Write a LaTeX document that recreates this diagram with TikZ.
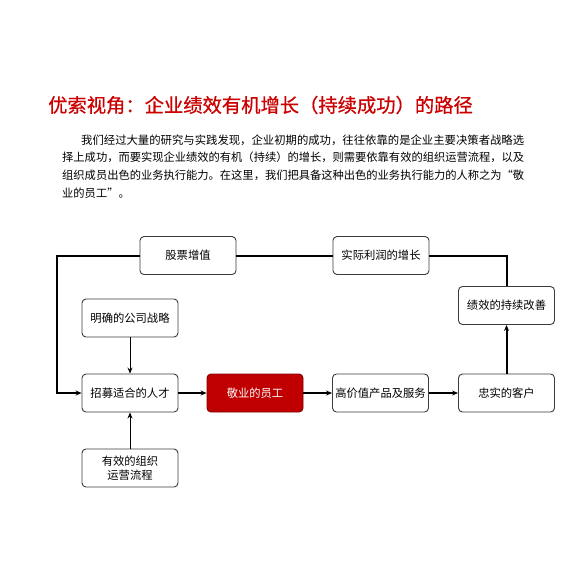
\documentclass[tikz,border=0pt]{standalone}
\usepackage{fontspec}
\usepackage{graphicx}
\setmainfont{Noto Sans CJK SC}
\newfontfamily\titlefont[FakeBold=0.6]{Noto Sans CJK SC}
\usetikzlibrary{arrows.meta}
\definecolor{titlered}{RGB}{204,0,0}
\definecolor{boxred}{RGB}{192,0,0}
\definecolor{boxredborder}{RGB}{130,0,0}
\definecolor{boxline}{RGB}{60,60,60}
\tikzset{
  x=1pt, y=-1pt,
  flowbox/.style={draw=boxline, line width=0.9pt, rounded corners=4pt, fill=white,
    minimum width=96pt, minimum height=38pt, inner sep=1pt, align=center,
    font=\fontsize{11.3}{14}\selectfont},
  hotbox/.style={flowbox, fill=boxred, draw=boxredborder, text=white},
  thickline/.style={line width=2pt, black},
  thinline/.style={line width=0.9pt, black},
  arr/.style={-{Stealth[length=6pt,width=5pt]}},
  paraline/.style={anchor=west, inner sep=0pt, font=\fontsize{11.3}{14}\selectfont},
}
\begin{document}
\begin{tikzpicture}
\useasboundingbox (0,0) rectangle (580,560);
\fill[white] (0,0) rectangle (580,560);

\node[anchor=west, text=titlered, font=\titlefont\fontsize{19.3}{22}\selectfont, inner sep=0pt] (title) at (48,105)
  {优索视角：企业绩效有机增长（持续成功）的路径};

\node[paraline] (l1) at (81,140) {\resizebox{443pt}{!}{我们经过大量的研究与实践发现，企业初期的成功，往往依靠的是企业主要决策者战略选}};
\node[paraline] (l2) at (62,157.5) {\resizebox{462pt}{!}{择上成功，而要实现企业绩效的有机（持续）的增长，则需要依靠有效的组织运营流程，以及}};
\node[paraline] (l3) at (62,175) {\resizebox{462pt}{!}{组织成员出色的业务执行能力。在这里，我们把具备这种出色的业务执行能力的人称之为“敬}};
\node[paraline] (l4) at (62,193) {\resizebox{67.6pt}{!}{业的员工”。}};

\node[flowbox] (gp) at (188,255.5) {股票增值};
\node[flowbox] (lr) at (381,255.5) {实际利润的增长};
\node[flowbox] (jx) at (506.5,305.5) {绩效的持续改善};
\node[flowbox] (mq) at (130,318) {明确的公司战略};
\node[flowbox] (zm) at (130,393) {招募适合的人才};
\node[hotbox]  (jy) at (255,393) {敬业的员工};
\node[flowbox] (gj) at (380.5,393) {高价值产品及服务};
\node[flowbox] (zs) at (506.5,393) {忠实的客户};
\node[flowbox] (yx) at (130,468) {有效的组织\\运营流程};

\coordinate (lc) at (57,255.5);

\draw[thickline] (lr.west) -- (gp.east);
\draw[thickline, arr] (gp.west) -- (lc) |- (zm.west);
\draw[thickline] (jx.north) |- (lr.east);
\draw[thickline, arr] (zs.north) -- (jx.south);
\draw[thickline, arr] (zm.east) -- (jy.west);
\draw[thickline, arr] (jy.east) -- (gj.west);
\draw[thickline, arr] (gj.east) -- (zs.west);
\draw[thinline, arr] (mq.south) -- (zm.north);
\draw[thinline, arr] (yx.north) -- (zm.south);
\end{tikzpicture}
\end{document}
